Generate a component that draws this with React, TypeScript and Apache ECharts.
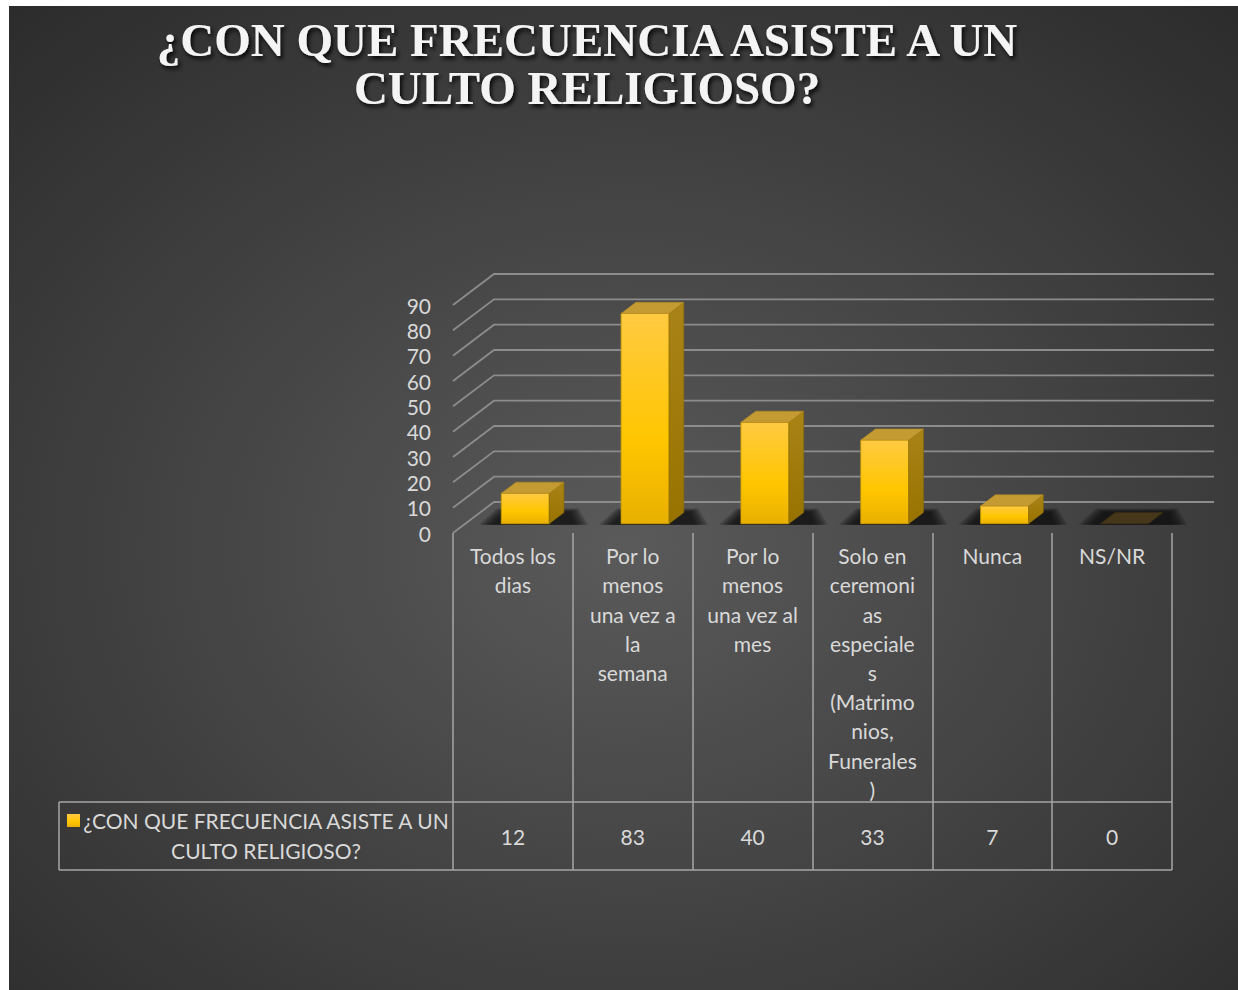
import React, { useEffect, useRef } from "react";
import * as echarts from "echarts";

const categories = [
  "Todos los dias",
  "Por lo menos una vez a la semana",
  "Por lo menos una vez al mes",
  "Solo en ceremonias especiales (Matrimonios, Funerales)",
  "Nunca",
  "NS/NR",
];
const tickLabels = [
  "Todos los\ndias",
  "Por lo\nmenos\nuna vez a\nla\nsemana",
  "Por lo\nmenos\nuna vez al\nmes",
  "Solo en\nceremoni\nas\nespeciale\ns\n(Matrimo\nnios,\nFunerales\n)",
  "Nunca",
  "NS/NR",
];
const values = [12, 83, 40, 33, 7, 0];
const yTicks = [0, 10, 20, 30, 40, 50, 60, 70, 80, 90];
const seriesName = "¿CON QUE FRECUENCIA ASISTE A UN CULTO RELIGIOSO?";
const titleLines = ["¿CON QUE FRECUENCIA ASISTE A UN", "CULTO RELIGIOSO?"];
const legendLines = ["¿CON QUE FRECUENCIA ASISTE A UN", "CULTO RELIGIOSO?"];

const DX = 41;
const DY = -31;
const BAR_FRONT = 0.3;
const BAR_DEPTH = 0.36;
const FONT = "Lato, 'Open Sans', sans-serif";
const FS = 21;
const TEXT = "#d9d9d9";
const LINE = "#a6a6a6";

export default function App() {
  const ref = useRef<HTMLDivElement>(null);
  useEffect(() => {
    document.body.style.margin = "0";
    const chart = echarts.init(ref.current!, null, { renderer: "svg" });

    const frontGrad = {
      type: "linear", x: 0, y: 0, x2: 0, y2: 1,
      colorStops: [
        { offset: 0, color: "#ffca42" },
        { offset: 0.6, color: "#ffc600" },
        { offset: 1, color: "#e8b000" },
      ],
    };
    const sideGrad = {
      type: "linear", x: 0, y: 0, x2: 0, y2: 1,
      colorStops: [
        { offset: 0, color: "#a98317" },
        { offset: 1, color: "#987300" },
      ],
    };

    const option: any = {
      animation: false,
      backgroundColor: "#ffffff",
      grid: { left: 453, top: 305, width: 719, height: 228, containLabel: false },
      xAxis: {
        type: "category",
        data: categories,
        boundaryGap: true,
        axisLine: { show: false },
        axisTick: { show: true, length: 337, interval: 0, lineStyle: { color: LINE, width: 1.5 } },
        axisLabel: {
          interval: 0,
          margin: 8,
          color: TEXT,
          fontSize: FS,
          fontFamily: FONT,
          lineHeight: 29.2,
          formatter: (_v: string, i: number) => tickLabels[i],
        },
        splitLine: { show: false },
      },
      yAxis: {
        type: "value",
        min: 0,
        max: 90,
        interval: 10,
        axisLine: { show: false },
        axisTick: { show: false },
        splitLine: { show: false },
        axisLabel: { margin: 22, color: TEXT, fontSize: FS, fontFamily: FONT },
      },
      graphic: {
        elements: [
          {
            type: "rect", z: -100, silent: true,
            shape: { x: 9, y: 6, width: 1229, height: 984 },
            style: {
              fill: {
                type: "radial", x: 0.5, y: 0.55, r: 0.85,
                colorStops: [
                  { offset: 0, color: "#5a5a5a" },
                  { offset: 1, color: "#252525" },
                ],
              },
            },
          },
          ...titleLines.map((t, k) => ({
            type: "text", z: 10,
            x: 587, y: 40 + k * 48,
            style: {
              text: t,
              fill: "#f4f4f4",
              fontSize: 47,
              fontWeight: "bold",
              fontFamily: "'Liberation Serif', 'DejaVu Serif', serif",
              align: "center", verticalAlign: "middle",
              textAlign: "center", textVerticalAlign: "middle",
              textShadowColor: "rgba(0,0,0,0.9)",
              textShadowBlur: 4,
              textShadowOffsetX: 2,
              textShadowOffsetY: 3,
            },
          })),
          { type: "line", z: 5, shape: { x1: 59, y1: 802, x2: 1172, y2: 802 }, style: { stroke: LINE, lineWidth: 1.5 } },
          { type: "line", z: 5, shape: { x1: 59, y1: 870, x2: 1172, y2: 870 }, style: { stroke: LINE, lineWidth: 1.5 } },
          { type: "line", z: 5, shape: { x1: 59, y1: 802, x2: 59, y2: 870 }, style: { stroke: LINE, lineWidth: 1.5 } },
          {
            type: "rect", z: 5,
            shape: { x: 67, y: 814, width: 13, height: 13 },
            style: { fill: frontGrad },
          },
          ...legendLines.map((t, k) => ({
            type: "text", z: 5,
            x: 266, y: 820 + k * 30,
            style: {
              text: t, fill: TEXT, fontSize: FS, fontFamily: FONT,
              align: "center", verticalAlign: "middle",
              textAlign: "center", textVerticalAlign: "middle",
            },
          })),
        ],
      },
      series: [
        {
          type: "custom",
          name: "grid",
          silent: true,
          z: 1,
          data: yTicks.map((v) => [0, v]),
          encode: { x: 0, y: 1 },
          renderItem: (params: any, api: any) => {
            const cs = params.coordSys;
            const y = api.coord([0, api.value(1)])[1];
            const x0 = cs.x;
            const x1 = cs.x + cs.width;
            return {
              type: "polyline",
              shape: { points: [[x0, y], [x0 + DX, y + DY], [x1 + DX + 1, y + DY]] },
              style: { stroke: "#8c8c8c", lineWidth: 1.8, fill: null },
            };
          },
        },
        {
          type: "custom",
          name: seriesName,
          z: 3,
          data: values.map((v, i) => [i, v]),
          encode: { x: 0, y: 1 },
          renderItem: (params: any, api: any) => {
            const i = api.value(0);
            const v = api.value(1);
            const [cx, yb] = api.coord([i, 0]);
            const yt = api.coord([i, v])[1];
            const band = api.size([1, 0])[0];
            const w = band * 0.4;
            const ox = DX * BAR_FRONT, oy = DY * BAR_FRONT;
            const dx = DX * BAR_DEPTH, dy = DY * BAR_DEPTH;
            const xl = cx - w / 2 + ox;
            const xr = xl + w;
            const b = yb + oy;
            const t = yt + oy;
            const children: any[] = [];
            // soft shadow on the floor, built from stacked translucent layers
            for (let k = 0; k < 6; k++) {
              const e = 14 - k * 2.6;
              const ey = 4 - k * 0.7;
              children.push({
                type: "polygon",
                shape: {
                  points: [
                    [xl - 8 - e, b + 1],
                    [xr + dx + 10 + e, b + 1],
                    [xr + dx + 6 + e * 0.6, b + dy - ey],
                    [xl + 4 - e * 0.6, b + dy - ey],
                  ],
                },
                style: { fill: "rgba(10,10,10,0.2)" },
              });
            }
            if (b - t > 0.5) {
              children.push({
                type: "rect",
                shape: { x: xl, y: t, width: w, height: b - t },
                style: { fill: frontGrad, stroke: "#c99c00", lineWidth: 0.8 },
              });
              children.push({
                type: "polygon",
                shape: { points: [[xr, t], [xr + dx, t + dy], [xr + dx, b + dy], [xr, b]] },
                style: { fill: sideGrad, stroke: "#8f6d00", lineWidth: 0.6 },
              });
            }
            children.push({
              type: "polygon",
              shape: { points: [[xl, t], [xr, t], [xr + dx, t + dy], [xl + dx, t + dy]] },
              style: {
                fill: v > 0 ? "#c49a32" : "#46371a",
                stroke: v > 0 ? "#b08a20" : "#3a2e15",
                lineWidth: 0.6,
              },
            });
            return { type: "group", children };
          },
        },
        {
          type: "custom",
          name: "table",
          silent: true,
          z: 4,
          data: values.map((v, i) => [i, v]),
          encode: { x: 0, y: 1 },
          renderItem: (params: any, api: any) => {
            const cs = params.coordSys;
            const x = api.coord([api.value(0), 0])[0];
            return {
              type: "text",
              x,
              y: cs.y + cs.height + 303,
              style: {
                text: String(api.value(1)),
                fill: TEXT,
                fontSize: FS,
                fontFamily: FONT,
                align: "center", verticalAlign: "middle",
                textAlign: "center", textVerticalAlign: "middle",
              },
            };
          },
        },
      ],
    };
    chart.setOption(option);
    return () => chart.dispose();
  }, []);
  return <div ref={ref} style={{ width: 1238, height: 990 }} />;
}
